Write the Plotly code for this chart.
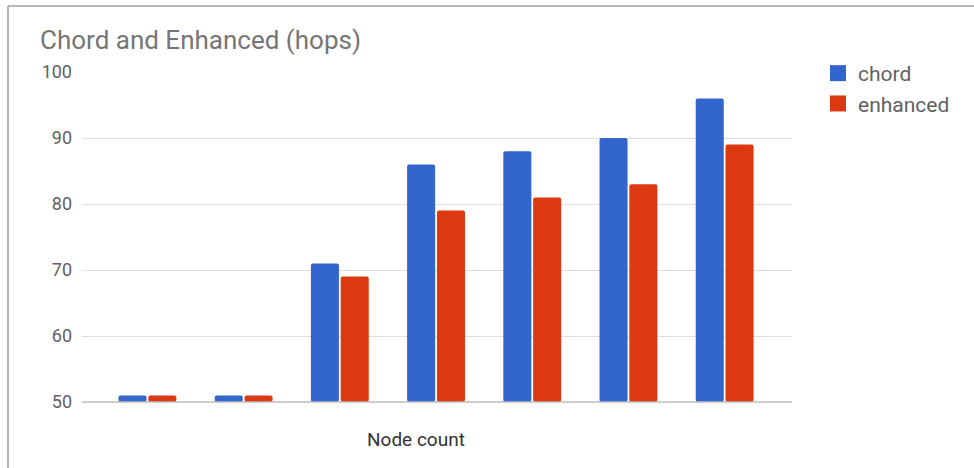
import plotly.graph_objects as go

categories = ["1", "2", "3", "4", "5", "6", "7"]
chord = [51, 51, 71, 86, 88, 90, 96]
enhanced = [51, 51, 69, 79, 81, 83, 89]
y_ticks = [50, 60, 70, 80, 90, 100]
series_names = ["chord", "enhanced"]
series_colors = ["#3366cc", "#dc3912"]

W, H = 974, 468
L, R, T, B = 82, 182, 72, 66
pw, ph = W - L - R, H - T - B

def px(x):
    return (x - L) / pw

def py(y):
    return (H - B - y) / ph

fig = go.Figure()
for name, vals, col in zip(series_names, [chord, enhanced], series_colors):
    fig.add_trace(go.Bar(x=categories, y=[v - 50 for v in vals], base=50, name=name,
                         showlegend=False,
                         marker=dict(color=col, cornerradius=2, line=dict(width=0))))
for name, col in zip(series_names, series_colors):
    fig.add_trace(go.Scatter(x=[None], y=[None], mode="markers", name=name,
                             marker=dict(symbol="square", size=16, color=col)))

fig.update_layout(
    width=W, height=H,
    margin=dict(l=L, r=R, t=T, b=B),
    paper_bgcolor="white", plot_bgcolor="white",
    font=dict(family="Roboto, Arial, sans-serif", color="#757575"),
    title=dict(text="Chord and Enhanced (hops)", x=40 / W, xanchor="left",
               y=1 - 40 / H, yanchor="middle", font=dict(size=26, color="#757575")),
    barmode="group", bargap=0.38, bargroupgap=0.06,
    showlegend=True,
    legend=dict(x=px(818), y=py(53), xanchor="left", yanchor="top",
                font=dict(size=21, color="#616161"), tracegroupgap=4,
                itemwidth=30),
    xaxis=dict(range=[-0.68, 6.7], showticklabels=False, showgrid=False,
               zeroline=False, showline=False, ticks=""),
    yaxis=dict(range=[50, 100], tickvals=y_ticks, showgrid=True, gridcolor="#dddddd",
               gridwidth=1, zeroline=False, showline=False, ticks="",
               ticklabelstandoff=9, tickfont=dict(size=18, color="#616161")),
    shapes=[
        dict(type="line", xref="paper", yref="paper", x0=0, x1=1, y0=0, y1=0,
             line=dict(color="#bdbdbd", width=1.5)),
        dict(type="line", xref="paper", yref="paper", x0=px(8), x1=px(8),
             y0=py(6), y1=py(468), line=dict(color="#9e9e9e", width=1.5)),
        dict(type="line", xref="paper", yref="paper", x0=px(8), x1=px(974),
             y0=py(6), y1=py(6), line=dict(color="#9e9e9e", width=1.5)),
    ],
    annotations=[
        dict(text="Node count", xref="paper", yref="paper", x=px(416), y=py(439),
             xanchor="center", yanchor="middle", showarrow=False,
             font=dict(size=19, color="#333333")),
    ],
)

fig.write_html("out.html", config={"displayModeBar": False},
               post_script="document.body.style.margin='0px';")
